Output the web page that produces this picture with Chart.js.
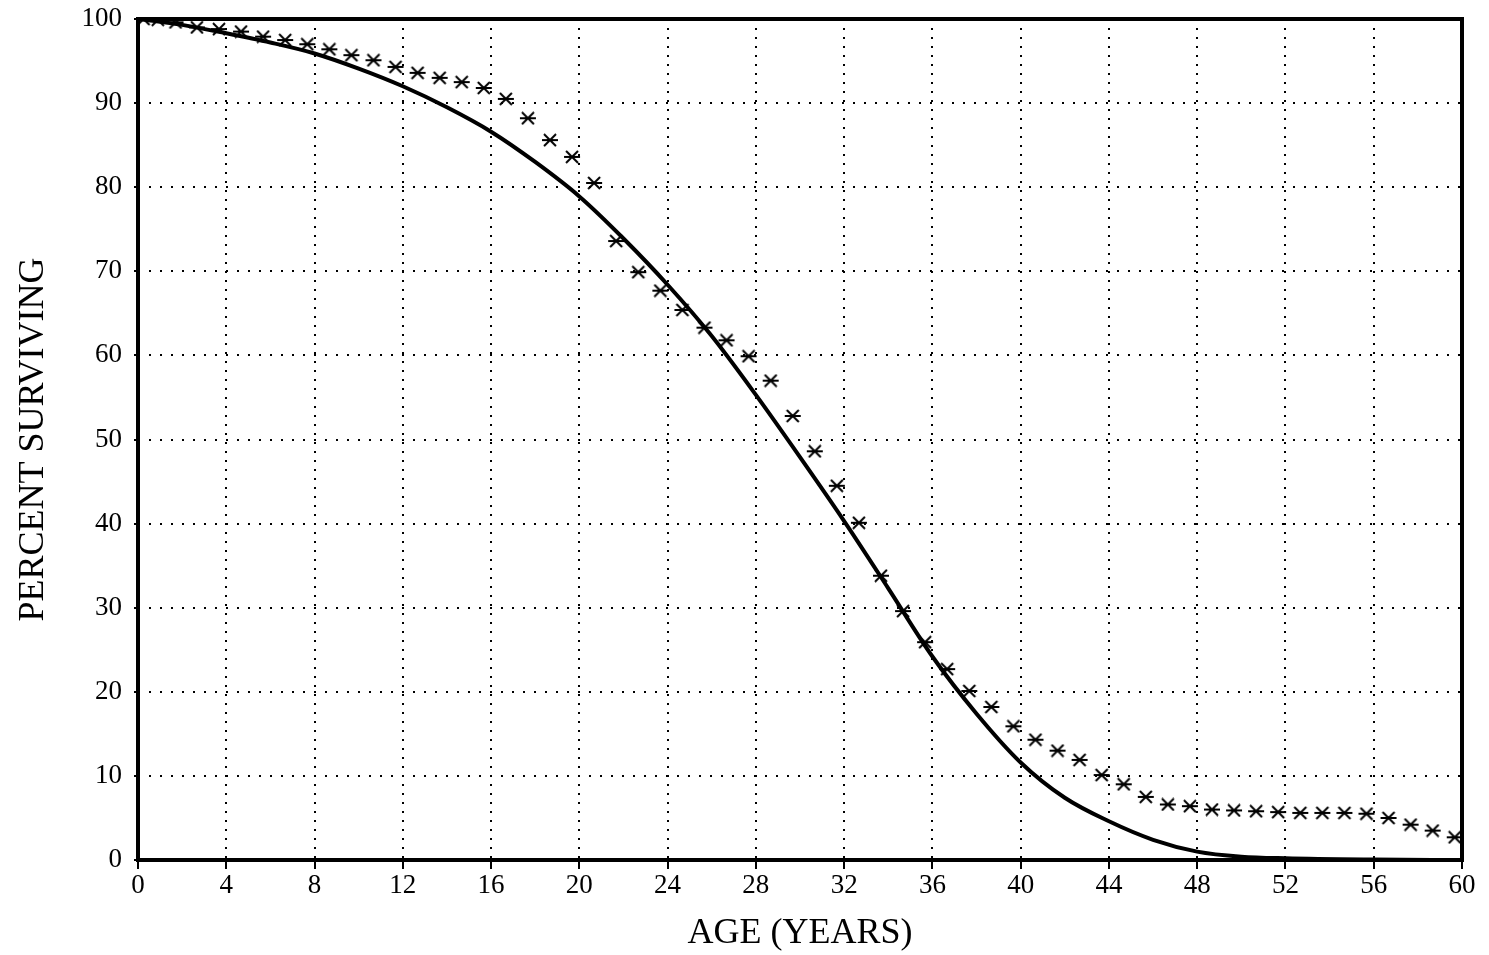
<!DOCTYPE html>
<html>
<head>
<meta charset="utf-8">
<script src="https://cdn.jsdelivr.net/npm/chart.js@4/dist/chart.umd.min.js"></script>
<style>
  body { margin: 0; background: #fff; }
  #wrap { width: 1489px; height: 955px; }
</style>
</head>
<body>
<div id="wrap"><canvas id="survChart"></canvas></div>
<script>
// observed survival (x marks)
const markAges = [0.25, 0.9, 1.7, 2.67, 3.67, 4.67, 5.67, 6.67, 7.67, 8.67, 9.67,
  10.67, 11.67, 12.67, 13.67, 14.67, 15.67, 16.67, 17.67, 18.67, 19.67,
  20.67, 21.67, 22.67, 23.67, 24.67, 25.67, 26.67, 27.67, 28.67, 29.67,
  30.67, 31.67, 32.67, 33.67, 34.67, 35.67, 36.67, 37.67, 38.67, 39.67,
  40.67, 41.67, 42.67, 43.67, 44.67, 45.67, 46.67, 47.67, 48.67, 49.67,
  50.67, 51.67, 52.67, 53.67, 54.67, 55.67, 56.67, 57.67, 58.67, 59.67];
const markSurv = [100, 99.9, 99.6, 99.0, 98.8, 98.5, 97.9, 97.5, 97.0, 96.4, 95.7,
  95.1, 94.3, 93.6, 93.0, 92.5, 91.8, 90.5, 88.2, 85.6, 83.6,
  80.5, 73.6, 69.9, 67.7, 65.4, 63.3, 61.8, 59.9, 57.0, 52.8,
  48.6, 44.5, 40.1, 33.8, 29.6, 25.9, 22.7, 20.1, 18.2, 15.9,
  14.3, 13.0, 11.9, 10.1, 9.0, 7.5, 6.6, 6.4, 6.0, 5.9,
  5.8, 5.7, 5.6, 5.6, 5.6, 5.5, 5.0, 4.2, 3.5, 2.7];

// fitted survival curve
const curveAges = [0, 2, 4, 6, 8, 10, 12, 14, 16, 18, 20, 22, 24, 26, 28, 30,
  32, 34, 36, 38, 40, 42, 44, 46, 48, 50, 52, 56, 60];
const curveSurv = [100, 99.3, 98.3, 97.2, 95.9, 94.1, 92.0, 89.5, 86.6, 83.0, 78.9, 73.9,
  68.4, 62.3, 55.3, 47.9, 40.3, 32.3, 24.2, 17.4, 11.6, 7.4, 4.6, 2.4, 1.0, 0.4, 0.2, 0.05, 0];

const xTicks = [0, 4, 8, 12, 16, 20, 24, 28, 32, 36, 40, 44, 48, 52, 56, 60];
const yTicks = [0, 10, 20, 30, 40, 50, 60, 70, 80, 90, 100];

// x-with-bar marker
const mark = document.createElement('canvas');
mark.width = 18; mark.height = 14;
const m = mark.getContext('2d');
m.strokeStyle = '#000';
m.lineWidth = 2;
m.beginPath();
m.moveTo(3, 1); m.lineTo(15, 13);
m.moveTo(15, 1); m.lineTo(3, 13);
m.moveTo(1, 7); m.lineTo(17, 7);
m.stroke();

const framePlugin = {
  id: 'frame',
  afterDraw(chart) {
    const { ctx, chartArea: a } = chart;
    ctx.save();
    ctx.strokeStyle = '#000';
    ctx.lineWidth = 4;
    ctx.strokeRect(a.left, a.top, a.right - a.left, a.bottom - a.top);
    ctx.restore();
  }
};

const serif = '"Liberation Serif", "DejaVu Serif", serif';

new Chart(document.getElementById('survChart'), {
  type: 'scatter',
  data: {
    datasets: [
      {
        label: 'observed',
        data: markAges.map((a, i) => ({ x: a, y: markSurv[i] })),
        pointStyle: mark,
        pointRadius: 7,
        showLine: false,
        order: 0
      },
      {
        label: 'fitted',
        type: 'line',
        data: curveAges.map((a, i) => ({ x: a, y: curveSurv[i] })),
        borderColor: '#000',
        borderWidth: 4,
        pointRadius: 0,
        cubicInterpolationMode: 'monotone',
        fill: false,
        order: 1
      }
    ]
  },
  options: {
    responsive: true,
    maintainAspectRatio: false,
    animation: false,
    layout: { padding: { top: 19, right: 27, left: 0, bottom: 0 } },
    plugins: { legend: { display: false }, tooltip: { enabled: false } },
    scales: {
      x: {
        type: 'linear',
        min: 0, max: 60,
        afterBuildTicks: s => { s.ticks = xTicks.map(v => ({ value: v })); },
        afterFit: s => { s.height = 95; },
        grid: { color: '#000', lineWidth: 2, tickLength: 9, tickColor: '#000', tickWidth: 2 },
        border: { display: false, dash: [2, 7] },
        ticks: { color: '#000', font: { family: serif, size: 27 }, padding: 1, maxRotation: 0 },
        title: { display: true, text: 'AGE (YEARS)', color: '#000', font: { family: serif, size: 36 }, padding: { top: 0, bottom: 0 } }
      },
      y: {
        min: 0, max: 100,
        afterBuildTicks: s => { s.ticks = yTicks.map(v => ({ value: v })); },
        afterFit: s => { s.width = 138; s.paddingTop = 0; },
        grid: { color: '#000', lineWidth: 2, tickLength: 4, tickColor: '#000', tickWidth: 2 },
        border: { display: false, dash: [2, 9] },
        ticks: { color: '#000', font: { family: serif, size: 27 }, padding: 12 },
        title: { display: true, text: 'PERCENT SURVIVING', color: '#000', font: { family: serif, size: 36 }, padding: { top: 12, bottom: 0 } }
      }
    }
  },
  plugins: [framePlugin]
});
</script>
</body>
</html>
